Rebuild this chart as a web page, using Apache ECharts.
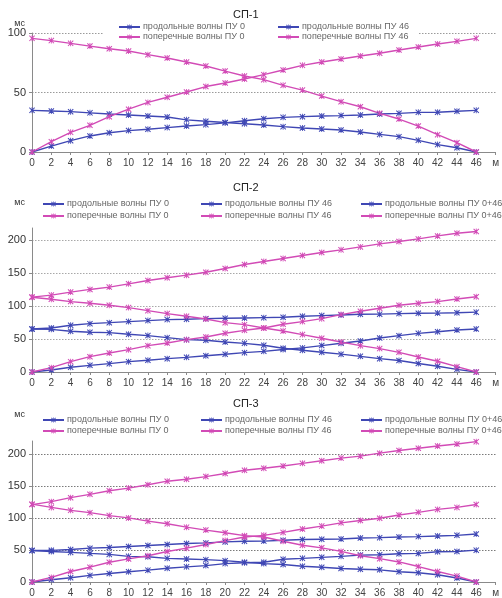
<!DOCTYPE html>
<html><head><meta charset="utf-8">
<script src="https://cdn.jsdelivr.net/npm/echarts@6/dist/echarts.min.js"></script>
<style>html,body{margin:0;padding:0;background:#fff}#c{width:502px;height:598px}</style>
</head><body><div id="c"></div>
<script>
// distance, m
const X = [0,2,4,6,8,10,12,14,16,18,20,22,24,26,28,30,32,34,36,38,40,42,44,46];

// СП-1
const sp1_long_0  = [35,34.5,33.9,32.9,31.9,31.1,30.3,29.4,27,25.9,24.8,23.8,22.7,21.3,20.2,19.3,18.5,16.8,14.8,12.9,9.8,6.2,3.6,0];
const sp1_long_46 = [0,5,9.5,13.5,16.2,18,19.1,20.5,21.8,23,24.5,26.3,28,29.1,29.7,30.3,30.6,31.1,31.9,32.5,33.3,33.4,34.2,35];
const sp1_tr_0    = [95.5,93.6,91.3,89,86.8,84.9,81.8,79,75.6,72.3,68,63.9,60.8,56,52,47,42.3,38,32.5,27.7,21.8,14.6,7.8,0];
const sp1_tr_46   = [0,8.7,16.5,22.4,29.7,36,41.7,46,50.4,55,58,61.3,65,68.9,72.8,75.6,78.2,80.7,83,85.7,88.2,90.8,93,95.5];

// СП-2
const sp2_long_0   = [65.2,64.6,61.6,60.1,59.6,57.1,55.1,52,49,48,45.5,43.4,40.4,36,33,30,27,23.7,20.2,17.4,12.8,8.8,4,0];
const sp2_long_46  = [0,3,7.1,10.1,12.6,15.7,17.7,20.2,22.2,24.7,26.8,29.3,31.3,34,36.5,40,43.5,47,51.5,55,58.5,61,63.5,65];
const sp2_long_sum = [65.2,66.7,70.7,73.2,74.7,76.3,77.8,79.3,79.8,80.8,81.3,81.8,82.3,82.8,84.3,85.4,86.4,87.4,87.6,88.4,88.9,89.2,89.6,90.6];
const sp2_tr_0     = [113.1,110.1,106.6,104,101,97.5,92.9,88.4,84.3,80.3,74.7,71.7,66.7,62.1,56.6,51,45.5,39.9,35.4,29.8,22.7,16.2,8.1,0];
const sp2_tr_46    = [0,6.6,15.7,23.2,28.8,33.8,39.9,43.9,49,53,58.6,63.1,66.7,72.2,76.3,80.8,86.9,91.9,96.5,101,104,106.6,110.6,114];
const sp2_tr_sum   = [113.4,116.4,121,125,128.5,133.5,138.5,142.6,146.6,151,156.7,162.7,167.3,171.8,176.3,180.9,184.9,189.4,194,197.5,201.5,206,210,212.6];

// СП-3
const sp3_long_0   = [49.2,47.7,46.2,44.6,43.1,40,39.5,36.9,35.9,34.9,33.3,30.8,28.7,27.2,24.6,23.1,21,20,19,15.9,14.4,11.3,6.2,0];
const sp3_long_46  = [0,3.6,6.7,10.3,13.3,15.9,18.5,21.5,23.6,25.6,28.7,30,30.8,35.4,36.9,38.5,40,42,42.6,44.1,44.6,47.2,47.7,49.7];
const sp3_long_sum = [49.2,49.4,50.8,52.8,53.8,55.4,56.9,58.5,60,61,62.6,63.6,63.8,65.1,66.2,66.7,67.2,68.7,69.2,70.3,70.8,71.8,72.8,74.9];
const sp3_tr_0     = [121.5,116.4,111.8,108.2,103.6,100,94.9,90.8,85.6,81,76.9,72.3,70.3,63.6,57.4,53.3,47.7,41,36.4,31.3,24.1,16.4,9.2,0];
const sp3_tr_46    = [0,7.2,16.4,23.1,30.8,36,41,47.5,52.8,58.5,64.6,70.3,72.8,77.4,82.6,87.2,92.3,95.9,99.5,104.6,108.7,113.3,116.4,121];
const sp3_tr_sum   = [120.8,125.4,131.6,136.8,142.4,146.5,151.7,157.3,160.4,164.5,169.2,174.3,177.4,181,185.1,189.2,193.3,196.4,201,205.1,208.7,212.3,215.4,219];

const titles = ['СП-1','СП-2','СП-3'];
const N_L0 = 'продольные волны ПУ 0', N_L46 = 'продольные волны ПУ 46', N_LS = 'продольные волны ПУ 0+46';
const N_T0 = 'поперечные волны ПУ 0', N_T46 = 'поперечные волны ПУ 46', N_TS = 'поперечные волны ПУ 0+46';

const BLUE = '#3f47b4', PINK = '#d24bb6';
const FONT = 'Liberation Sans, Arial, sans-serif';
// filled star-X marker (X with a vertical bar)
const XSYM = 'path://M0,1.2L1.2,0L5,3.8L8.8,0L10,1.2L6.2,5L10,8.8L8.8,10L5,6.2L1.2,10L0,8.8L3.8,5Z' +
             'M4.3,0L5.7,0L5.7,10L4.3,10Z';

function pairs(ys){ return X.map((x,i)=>[x, ys[i]]); }
function mk(name, color, ys, idx){
  return { name, type:'line', xAxisIndex:idx, yAxisIndex:idx, data:pairs(ys),
    symbol:XSYM, symbolSize:6, showSymbol:true,
    lineStyle:{color, width:1.4}, itemStyle:{color, borderWidth:0},
    emphasis:{disabled:true}, animation:false };
}

const grids = [
  {left:32, right:6, top:33, height:119},
  {left:32, right:6, top:228, height:144},
  {left:32, right:6, top:441, height:143}
];
const ymax = [100, 218, 220];
const nameGaps = [9, 25, 26];
const splitColors = ['#9a9a9a', '#a8a8a8', '#7a7a7a'];

const xAxes = grids.map((g,i)=>({
  gridIndex:i, type:'value', min:0, max:48, interval:2,
  axisLine:{lineStyle:{color:'#8a8a8a', width:1}},
  axisTick:{show:true, length:3, lineStyle:{color:'#8a8a8a'}},
  axisLabel:{fontSize:10, color:'#444', fontFamily:FONT, margin:6,
    formatter:v=> v===48 ? 'м' : String(v)},
  splitLine:{show:false}
}));
const yAxes = grids.map((g,i)=>({
  gridIndex:i, type:'value', min:0, max:ymax[i], interval:50,
  name:'мс', nameLocation:'end', nameGap:nameGaps[i],
  nameTextStyle:{fontSize:9, color:'#333', fontFamily:FONT, align:'right', verticalAlign:'middle', padding:[0,7,0,0]},
  axisLine:{show:true, lineStyle:{color:'#8a8a8a', width:1}},
  axisTick:{show:true, length:3, lineStyle:{color:'#8a8a8a'}},
  axisLabel:{fontSize:11, color:'#333', fontFamily:FONT, margin:6, showMaxLabel: ymax[i]%50===0},
  splitLine:{show:true, showMinLine:false, showMaxLine: ymax[i]%50===0,
    lineStyle:{color:splitColors[i], type:[1.5,1.5], width:1}}
}));

const series = [
  mk(N_L0, BLUE, sp1_long_0, 0), mk(N_L46, BLUE, sp1_long_46, 0),
  mk(N_T0, PINK, sp1_tr_0, 0),   mk(N_T46, PINK, sp1_tr_46, 0),
  mk(N_L0, BLUE, sp2_long_0, 1), mk(N_L46, BLUE, sp2_long_46, 1), mk(N_LS, BLUE, sp2_long_sum, 1),
  mk(N_T0, PINK, sp2_tr_0, 1),   mk(N_T46, PINK, sp2_tr_46, 1),   mk(N_TS, PINK, sp2_tr_sum, 1),
  mk(N_L0, BLUE, sp3_long_0, 2), mk(N_L46, BLUE, sp3_long_46, 2), mk(N_LS, BLUE, sp3_long_sum, 2),
  mk(N_T0, PINK, sp3_tr_0, 2),   mk(N_T46, PINK, sp3_tr_46, 2),   mk(N_TS, PINK, sp3_tr_sum, 2)
];

function lg(left, top, data, gap){
  return { orient:'vertical', left, top, data, padding:0, itemGap:gap, itemWidth:21, itemHeight:6,
    selectedMode:false,
    textStyle:{fontSize:9, color:'#666', fontFamily:FONT, lineHeight:10, padding:[0,0,0,-2]} };
}
const legends = [
  lg(118, 22, [N_L0, N_T0], 0), lg(277, 22, [N_L46, N_T46], 0),
  lg(42, 199, [N_L0, N_T0], 2), lg(200, 199, [N_L46, N_T46], 2), lg(360, 199, [N_LS, N_TS], 2),
  lg(42, 415, [N_L0, N_T0], 1), lg(200, 415, [N_L46, N_T46], 1), lg(360, 415, [N_LS, N_TS], 1)
];

const titleTops = [9, 182, 398];
const title = titles.map((t,i)=>({text:t, left:233, top:titleTops[i], padding:0,
  textStyle:{fontSize:11, fontWeight:'normal', color:'#222', fontFamily:FONT}}));

const chart = echarts.init(document.getElementById('c'), null, {renderer:'canvas'});
chart.setOption({
  backgroundColor:'#fff', animation:false,
  title, legend:legends, grid:grids, xAxis:xAxes, yAxis:yAxes, series,
  graphic:[{type:'rect', z:3, silent:true, shape:{x:104, y:20, width:314, height:23}, style:{fill:'#fff'}}]
});
</script></body></html>
